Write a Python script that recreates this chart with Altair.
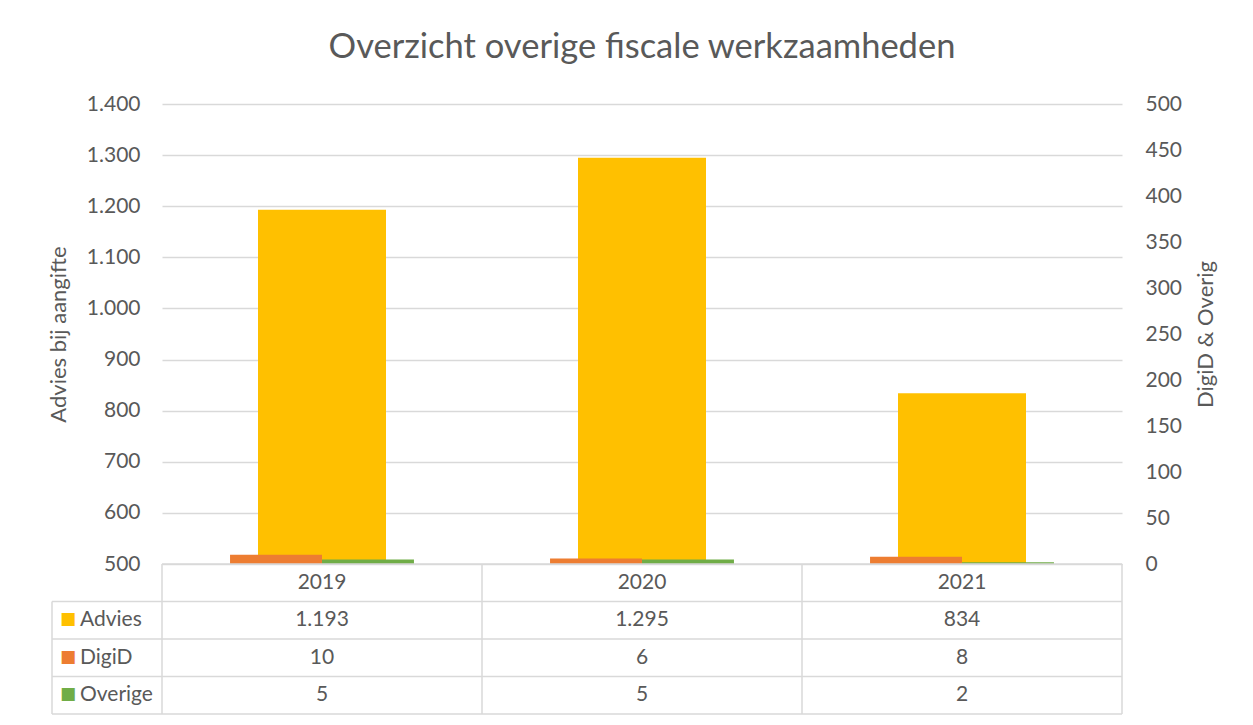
import altair as alt
import pandas as pd

# ---- data ----
years = ["2019", "2020", "2021"]
series = ["Advies", "DigiD", "Overige"]
advies = [1193, 1295, 834]
digid = [10, 6, 8]
overige = [5, 5, 2]
colors = ["#FFC000", "#ED7D31", "#70AD47"]

title_text = "Overzicht overige fiscale werkzaamheden"
left_title = "Advies bij aangifte"
right_title = "DigiD & Overig"
left_ticks = [500, 600, 700, 800, 900, 1000, 1100, 1200, 1300, 1400]
right_ticks = [0, 50, 100, 150, 200, 250, 300, 350, 400, 450, 500]

# ---- layout / style ----
W = 960
H_BARS = 460
H_TABLE = 150
H = H_BARS + H_TABLE
LABEL_COL = 110 / 320  # legend column width, in year-column units
FONT = "Lato"
TXT = "#595959"
GRID = "#D9D9D9"


def nl(v):
    return f"{v:,}".replace(",", ".")


df_adv = pd.DataFrame({"year": years, "value": advies})
df_sec = pd.DataFrame({
    "year": years * 2,
    "series": ["DigiD"] * len(years) + ["Overige"] * len(years),
    "value": digid + overige,
})

# table cells
cells = []
for i, y in enumerate(years):
    cells.append({"col": i + 0.5, "row": 0.5, "text": y})
for r, vals in enumerate([advies, digid, overige], start=1):
    for i, v in enumerate(vals):
        cells.append({"col": i + 0.5, "row": r + 0.5, "text": nl(v)})
df_cells = pd.DataFrame(cells)

df_legend = pd.DataFrame({
    "col": [-LABEL_COL] * len(series),
    "row": [r + 0.5 for r in range(1, len(series) + 1)],
    "series": series,
})

lines = []
n_rows = len(series) + 1
for r in range(0, n_rows + 1):
    lines.append({"x": -LABEL_COL if r >= 1 else 0, "x2": len(years), "y": r, "y2": r})
for c in range(0, len(years) + 1):
    lines.append({"x": c, "x2": c, "y": 0, "y2": n_rows})
lines.append({"x": -LABEL_COL, "x2": -LABEL_COL, "y": 1, "y2": n_rows})
df_lines = pd.DataFrame(lines)

x_band = alt.X("year:N", axis=None,
               scale=alt.Scale(domain=years, paddingInner=0, paddingOuter=0))

adv_bar = alt.Chart(df_adv).mark_bar(color=colors[0], width=alt.RelativeBandSize(0.4)).encode(
    x=x_band,
    y=alt.Y("value:Q",
            scale=alt.Scale(domain=[500, 1400], range=[H_BARS, 0]),
            axis=alt.Axis(orient="left", values=left_ticks, title=left_title,
                          grid=True, gridColor=GRID, gridWidth=1.3,
                          domain=False, ticks=False, labelPadding=22,
                          labelExpr="replace(format(datum.value, ',d'), ',', '.')",
                          labelFont=FONT, labelFontSize=21, labelColor=TXT,
                          titleFont=FONT, titleFontSize=22, titleColor=TXT,
                          titleFontWeight="normal", titlePadding=16)),
    y2=alt.datum(500),
)

sec_bar = alt.Chart(df_sec).mark_bar().encode(
    x=x_band,
    xOffset=alt.XOffset("series:N", scale=alt.Scale(domain=["DigiD", "Overige"],
                                                     paddingInner=0, paddingOuter=0.74)),
    y=alt.Y("value:Q",
            scale=alt.Scale(domain=[0, 500], range=[H_BARS, 0]),
            axis=alt.Axis(orient="right", values=right_ticks, title=right_title,
                          grid=False, domain=False, ticks=False, labelPadding=23,
                          labelFont=FONT, labelFontSize=21, labelColor=TXT,
                          titleFont=FONT, titleFontSize=22, titleColor=TXT,
                          titleFontWeight="normal", titlePadding=14,
                          titleAngle=270, titleBaseline="top")),
    y2=alt.datum(0),
    color=alt.Color("series:N", scale=alt.Scale(domain=series, range=colors), legend=None),
)

tx = alt.Scale(domain=[0, len(years)], range=[0, W])
ty = alt.Scale(domain=[0, n_rows], range=[H_BARS, H])

table_lines = alt.Chart(df_lines).mark_rule(color=GRID, strokeWidth=1.5).encode(
    x=alt.X("x:Q", scale=tx, axis=None),
    x2="x2:Q",
    y=alt.Y("y:Q", scale=ty, axis=None),
    y2="y2:Q",
)

table_text = alt.Chart(df_cells).mark_text(font=FONT, fontSize=21, color=TXT).encode(
    x=alt.X("col:Q", scale=tx, axis=None),
    y=alt.Y("row:Q", scale=ty, axis=None),
    text="text:N",
)

legend_sq = alt.Chart(df_legend).mark_text(font="DejaVu Sans", fontSize=17, align="left", dx=8, dy=-1).encode(
    x=alt.X("col:Q", scale=tx, axis=None),
    y=alt.Y("row:Q", scale=ty, axis=None),
    text=alt.value("■"),
    color=alt.Color("series:N", scale=alt.Scale(domain=series, range=colors), legend=None),
)

legend_txt = alt.Chart(df_legend).mark_text(font=FONT, fontSize=21, color=TXT, align="left", dx=28).encode(
    x=alt.X("col:Q", scale=tx, axis=None),
    y=alt.Y("row:Q", scale=ty, axis=None),
    text="series:N",
)

chart = alt.layer(
    adv_bar, sec_bar, table_lines, table_text, legend_sq, legend_txt
).resolve_scale(
    y="independent", x="independent", color="independent"
).properties(
    width=W, height=H,
    title=alt.TitleParams(title_text, font=FONT, fontSize=34.5, color=TXT,
                          fontWeight="normal", anchor="middle", offset=28),
    padding={"left": 39, "top": 21, "right": 5, "bottom": 5},
).configure_view(stroke=None)

chart.save("out.html", embed_options={"renderer": "svg", "actions": False})
